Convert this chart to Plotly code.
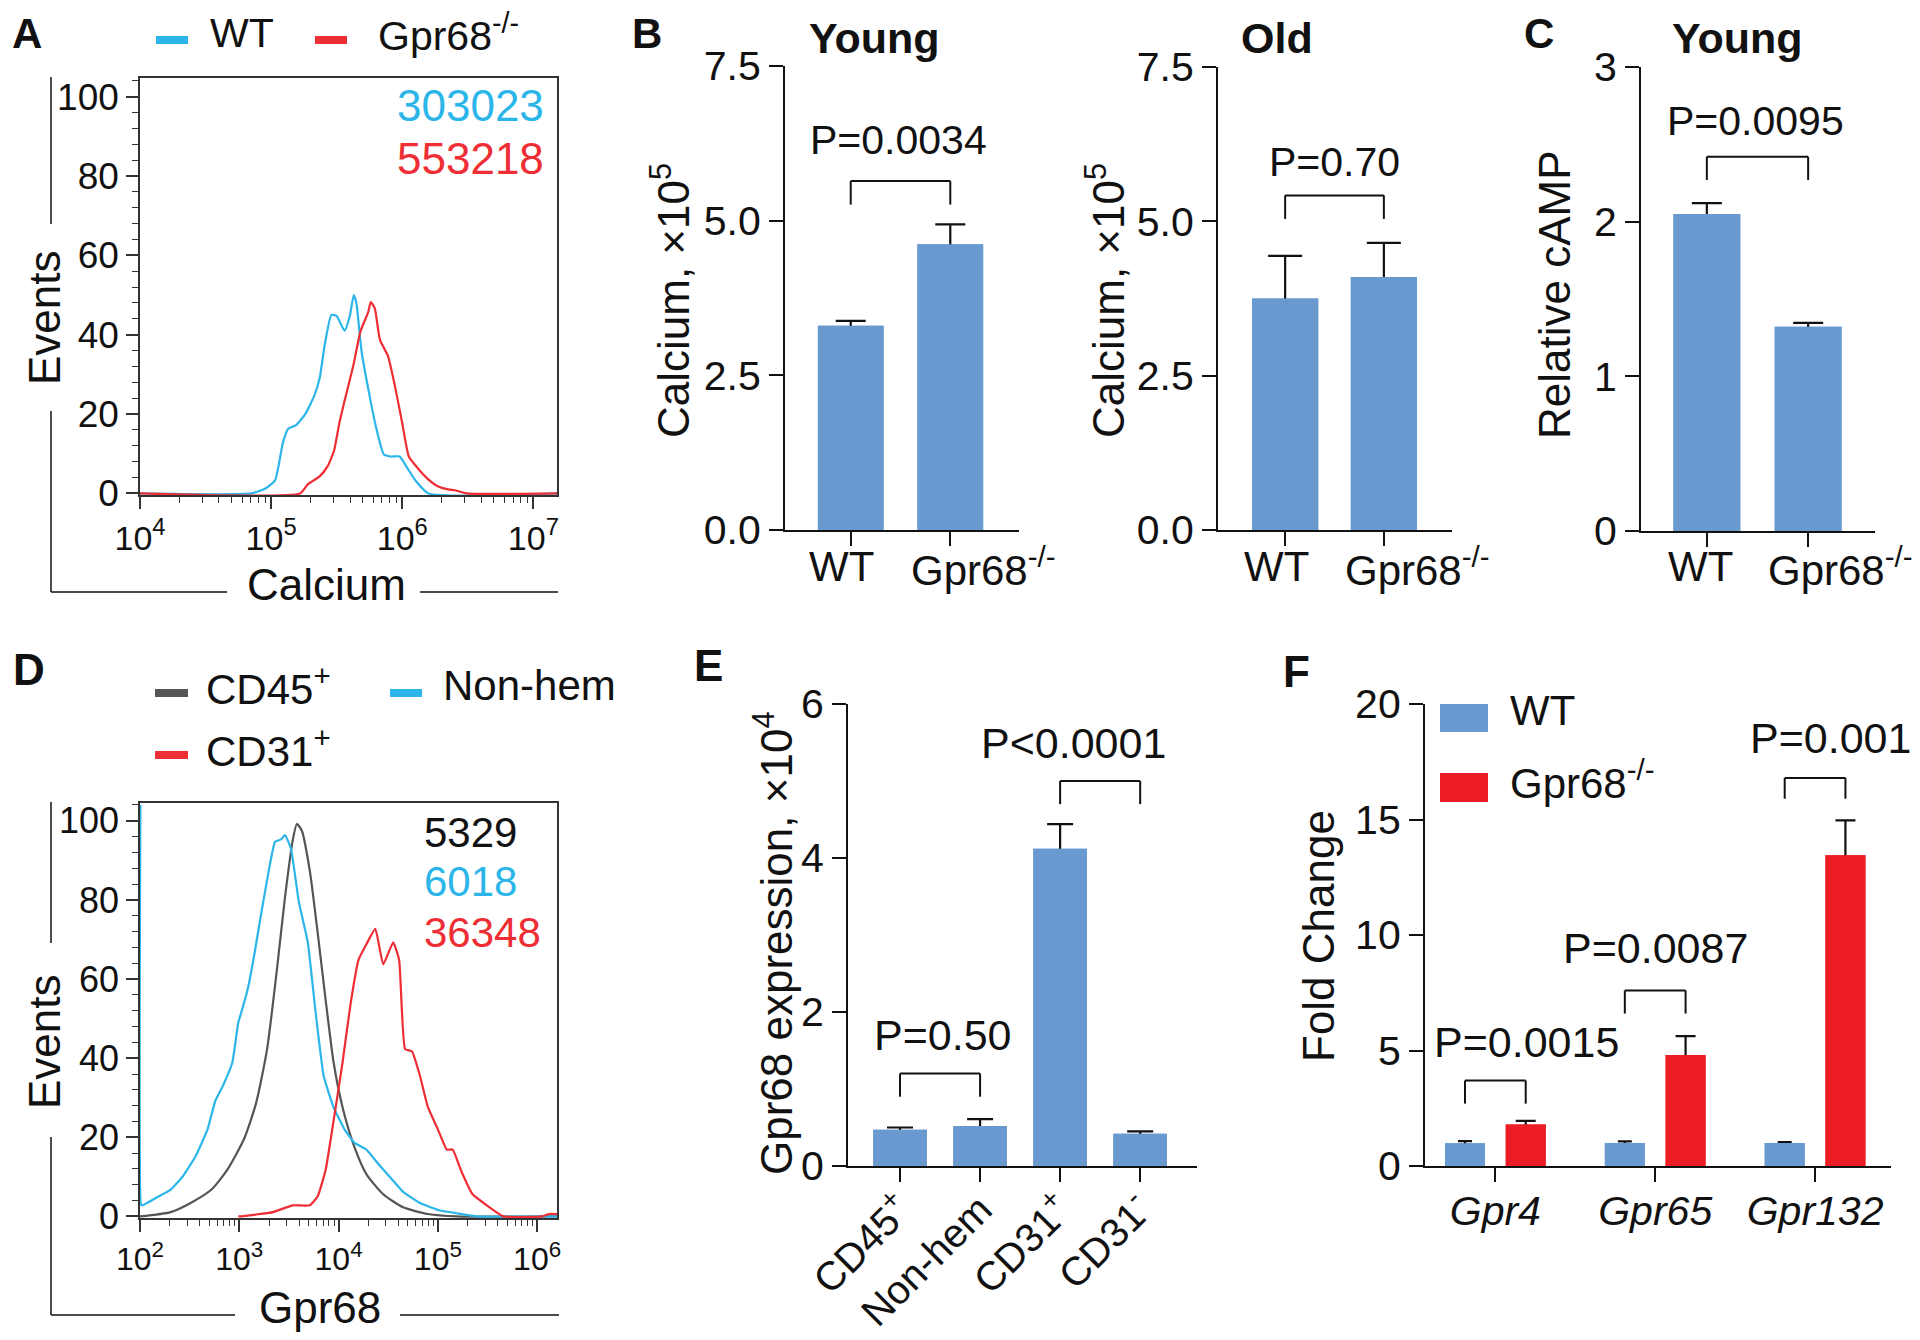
import numpy as np
import plotly.graph_objects as go

# ======================= DATA =======================
# Panel A: calcium flow histograms (x = log10 intensity, y = events % of max)
a_wt_log10 = [4.0, 4.85, 4.96, 5.03, 5.09, 5.13, 5.19, 5.26, 5.33, 5.37, 5.41, 5.46, 5.50,
              5.56, 5.60, 5.63, 5.65, 5.69, 5.75, 5.80, 5.86, 5.91, 5.98, 6.04, 6.10, 6.20, 7.19]
a_wt_events = [0, 0, 1.3, 3.3, 12.8, 16.3, 17.2, 20, 24.7, 29, 37.7, 45, 44.7,
               41, 44.7, 50, 48, 35.7, 24.7, 16.7, 9.8, 9.3, 9.3, 6.3, 3.3, 0, 0]
a_ko_log10 = [4.0, 5.22, 5.28, 5.37, 5.43, 5.48, 5.52, 5.57, 5.63, 5.68, 5.74, 5.76, 5.79,
              5.83, 5.89, 5.94, 6.00, 6.05, 6.12, 6.19, 6.27, 6.35, 6.40, 6.49, 7.19]
a_ko_events = [0, 0, 2.3, 4.3, 6.8, 10.8, 17.7, 24.7, 32.7, 40.7, 45.7, 48.2, 46.7,
               38.7, 34.7, 27.7, 17.7, 9.3, 6.3, 3.8, 1.8, 1.0, 0.8, 0, 0]
a_decades = [4, 5, 6, 7]
a_mfi = ["303023", "553218"]

# Panel B: calcium (x10^5)
genotypes = ["WT", "Gpr68<sup>-/-</sup>"]
young_ca = [3.30, 4.62]
young_ca_sem = [0.08, 0.32]
old_ca = [3.75, 4.10]
old_ca_sem = [0.69, 0.55]
b_ticks = [0, 2.5, 5.0, 7.5]

# Panel C: relative cAMP
camp = [2.05, 1.32]
camp_sem = [0.07, 0.025]
c_ticks = [0, 1, 2, 3]

# Panel D: Gpr68 flow histograms
d_cd45_log10 = [2.0, 2.31, 2.51, 2.72, 2.88, 3.05, 3.17, 3.28, 3.38, 3.46, 3.54, 3.58, 3.63,
                3.71, 3.79, 3.87, 3.95, 4.04, 4.16, 4.28, 4.45, 4.65, 4.90, 5.19, 6.2]
d_cd45_events = [0, 1.1, 3.4, 6.8, 11.8, 19.7, 28.7, 42.3, 62.6, 80.6, 95.3, 99.2, 97.5,
                 87.4, 71.6, 54.7, 38.9, 27.6, 17.5, 10.7, 5.6, 2.3, 0.6, 0, 0]
d_nonhem_log10 = [2.004, 2.008, 2.02, 2.19, 2.31, 2.43, 2.56, 2.68, 2.76, 2.84, 2.93, 2.99, 3.03,
                  3.09, 3.15, 3.21, 3.28, 3.36, 3.42, 3.46, 3.52, 3.60, 3.69, 3.77, 3.85, 3.95,
                  4.06, 4.16, 4.28, 4.41, 4.53, 4.65, 4.82, 5.02, 5.19, 5.40, 6.2]
d_nonhem_events = [104, 3.2, 2.8, 5.1, 6.8, 10.1, 15.2, 22, 29.3, 33.3, 38.9, 49, 52.4,
                   58, 66, 75, 85, 94.7, 95.3, 96.4, 93, 79.5, 69.3, 51.3, 35.5, 27.6,
                   22, 18.6, 16.9, 13, 9.6, 6.2, 3.4, 1.5, 0.8, 0, 0]
d_cd31_log10 = [2.99, 3.01, 3.34, 3.54, 3.71, 3.79, 3.87, 3.95, 4.04, 4.12, 4.20, 4.28, 4.37,
                4.45, 4.55, 4.61, 4.67, 4.74, 4.82, 4.90, 5.00, 5.09, 5.15, 5.23, 5.35, 5.52,
                5.66, 6.05, 6.12, 6.2]
d_cd31_events = [0, 0, 1.1, 2.8, 2.8, 5.1, 11.8, 24.2, 38.9, 53.6, 64.8, 68.8, 72.7,
                 63.7, 69.3, 64.8, 42.3, 41.7, 35.5, 27.6, 22, 16.9, 16.9, 11.8, 5.6, 2.3,
                 0, 0, 0.6, 0.6]
d_decades = [2, 3, 4, 5, 6]
d_mfi = ["5329", "6018", "36348"]

# Panel E: Gpr68 expression (x10^4)
e_groups = ["CD45<sup>+</sup>", "Non-hem", "CD31<sup>+</sup>", "CD31<sup>-</sup>"]
e_expr = [0.47, 0.52, 4.12, 0.42]
e_sem = [0.03, 0.09, 0.32, 0.03]
e_ticks = [0, 2, 4, 6]

# Panel F: fold change
f_genes = ["<i>Gpr4</i>", "<i>Gpr65</i>", "<i>Gpr132</i>"]
f_wt = [0.99, 1.00, 1.00]
f_wt_sem = [0.09, 0.07, 0.03]
f_ko = [1.80, 4.81, 13.45]
f_ko_sem = [0.15, 0.81, 1.51]
f_ticks = [0, 5, 10, 15, 20]

# ======================= STYLE =======================
W, H = 1920, 1340
BASE = "Liberation Sans, Arial, sans-serif"
INK = "#111111"
BAR_BLUE = "#6899CF"
BAR_RED = "#EC1C24"
CYAN = "#2BB5E9"
FRED = "#EE2D34"
GRAY = "#555555"
TICK = 41
TITLE = 44
TEXT_DY = -8   # visual centring correction for horizontal annotations


def X(px):
    return px / W


def Y(py):
    return 1 - py / H


fig = go.Figure()
shapes = []
annotations = []
layout_axes = {}


def axnames(i):
    return ("x" if i == 1 else f"x{i}"), ("y" if i == 1 else f"y{i}")


def set_axes(i, xbox, ybox, xcfg, ycfg):
    xn, yn = axnames(i)
    layout_axes["xaxis" + ("" if i == 1 else str(i))] = dict(
        domain=[X(xbox[0]), X(xbox[1])], anchor=yn, automargin=False, **xcfg)
    layout_axes["yaxis" + ("" if i == 1 else str(i))] = dict(
        domain=[Y(ybox[1]), Y(ybox[0])], anchor=xn, automargin=False, **ycfg)


def ann(text, x, y, size=TITLE, color=INK, xanchor="center", yanchor="middle", angle=0):
    if angle == 0 and yanchor == "middle":
        y = y + TEXT_DY
    annotations.append(dict(text=text, x=X(x), y=Y(y), xref="paper", yref="paper",
                            showarrow=False, xanchor=xanchor, yanchor=yanchor,
                            textangle=angle,
                            font=dict(size=size, color=color, family=BASE)))


def pline(x0, y0, x1, y1, color=INK, width=2):
    shapes.append(dict(type="line", xref="paper", yref="paper", x0=X(x0), y0=Y(y0),
                       x1=X(x1), y1=Y(y1), line=dict(color=color, width=width)))


def bracket(i, xa, xb, ytop, ybot, width=2):
    xn, yn = axnames(i)
    for (x0, y0, x1, y1) in [(xa, ybot, xa, ytop), (xa, ytop, xb, ytop), (xb, ytop, xb, ybot)]:
        shapes.append(dict(type="line", xref=xn, yref=yn, x0=x0, y0=y0, x1=x1, y1=y1,
                           line=dict(color=INK, width=width)))


def add_bars(i, cats, vals, errs, color, width, capw, offset=None):
    xn, yn = axnames(i)
    # bar carrying the upward error bar; its lower half is hidden by an identical cover bar
    fig.add_trace(go.Bar(x=cats, y=vals, width=width, offset=offset,
                         marker=dict(color=color, line=dict(width=0)),
                         error_y=dict(type="data", symmetric=False, array=errs, arrayminus=vals,
                                      color=INK, thickness=2.2, width=capw),
                         xaxis=xn, yaxis=yn, hoverinfo="skip"))
    fig.add_trace(go.Bar(x=cats, y=vals, width=width, offset=offset,
                         marker=dict(color=color, line=dict(width=0)),
                         xaxis=xn, yaxis=yn, hoverinfo="skip"))


def flow_axes(i, xbox, ybox, decades, xrange, yrange, xfont, yfont):
    minor_vals = [m * 10 ** d for d in range(decades[0] - 1, decades[-1] + 1) for m in range(2, 10)]
    xcfg = dict(type="log", range=xrange, showline=True, mirror=True, linecolor="#333", linewidth=1.5,
                ticks="outside", ticklen=12, tickwidth=1.5, tickcolor="#333",
                tickmode="array", tickvals=[10 ** d for d in decades],
                ticktext=[f"10<sup>{d}</sup>" for d in decades],
                minor=dict(tickmode="array", tickvals=minor_vals, ticks="outside", ticklen=6,
                           tickwidth=1.2, tickcolor="#333", showgrid=False),
                showgrid=False, zeroline=False, tickfont=xfont, fixedrange=True)
    ycfg = dict(range=yrange, showline=True, mirror=True, linecolor="#333", linewidth=1.5,
                ticks="outside", ticklen=12, tickwidth=1.5, tickcolor="#333",
                tickmode="array", tickvals=[0, 20, 40, 60, 80, 100],
                minor=dict(dtick=4, tick0=0, ticks="outside", ticklen=6, tickwidth=1.2,
                           tickcolor="#333", showgrid=False),
                showgrid=False, zeroline=False, tickfont=yfont, fixedrange=True)
    set_axes(i, xbox, ybox, xcfg, ycfg)


def bar_axes(i, xbox, ybox, xrange, yrange, yticks, yfmt, tickangle=0,
             show_xlabels=True, xstandoff=0, xfont_size=TICK):
    tf = dict(size=TICK, color=INK, family=BASE)
    xcfg = dict(type="category", range=xrange, showline=True, linecolor=INK, linewidth=2.2,
                ticks="outside", ticklen=14, tickwidth=2.2, tickcolor=INK, showgrid=False,
                zeroline=False, tickfont=dict(size=xfont_size, color=INK, family=BASE),
                tickangle=tickangle, fixedrange=True,
                showticklabels=show_xlabels, ticklabelstandoff=xstandoff)
    ycfg = dict(range=yrange, showline=True, linecolor=INK, linewidth=2.2, ticks="outside",
                ticklen=14, tickwidth=2.2, tickcolor=INK, tickmode="array", tickvals=yticks,
                tickformat=yfmt, showgrid=False, zeroline=False, tickfont=tf, fixedrange=True)
    set_axes(i, xbox, ybox, xcfg, ycfg)


# ======================= PANEL A =======================
fig.add_trace(go.Scatter(x=np.power(10.0, a_wt_log10), y=a_wt_events, mode="lines",
                         line=dict(color=CYAN, width=2.2, shape="spline", smoothing=0.5),
                         xaxis="x", yaxis="y", hoverinfo="skip"))
fig.add_trace(go.Scatter(x=np.power(10.0, a_ko_log10), y=a_ko_events, mode="lines",
                         line=dict(color=FRED, width=2.2, shape="spline", smoothing=0.5),
                         xaxis="x", yaxis="y", hoverinfo="skip"))
flow_axes(1, (132, 549), (70, 487), a_decades, [4, 7.18], [-0.4, 104.7],
          dict(size=34, color=INK, family=BASE), dict(size=37, color=INK, family=BASE))
ann("<b>A</b>", 19, 0, size=42, yanchor="top")
pline(148, 32, 180, 32, CYAN, 8)
ann("WT", 200, 33, size=41, xanchor="left")
pline(307, 32, 339, 32, FRED, 8)
ann("Gpr68<sup>-/-</sup>", 368, 33, size=41, xanchor="left")
ann(a_mfi[0], 387, 105, color=CYAN, xanchor="left")
ann(a_mfi[1], 387, 158, color=FRED, xanchor="left")
ann("Events", 36, 310, angle=-90)
ann("Calcium", 318, 584)
pline(43, 69, 43, 216, INK, 1.5)
pline(43, 403, 43, 584, INK, 1.5)
pline(43, 584, 219, 584, INK, 1.5)
pline(412, 584, 550, 584, INK, 1.5)

# ======================= PANEL B (Young) =======================
add_bars(2, genotypes, young_ca, young_ca_sem, BAR_BLUE, 0.66, 15)
bar_axes(2, (777, 1011), (58, 522), [-0.66, 1.69], [0, 7.5], b_ticks, ".1f", show_xlabels=False)
bracket(2, 0, 1, 5.64, 5.26)
ann("P=0.0034", 890, 140, size=41)
ann("<b>B</b>", 639, 0, size=42, yanchor="top")
ann("<b>Young</b>", 866, 38, size=43)
ann("Calcium, ×10<sup>5</sup>", 662, 293, angle=-90)
ann(genotypes[0], 833, 567, size=42)
ann(genotypes[1], 901, 567, size=42, xanchor="left")

# ======================= PANEL B (Old) =======================
add_bars(3, genotypes, old_ca, old_ca_sem, BAR_BLUE, 0.67, 17)
bar_axes(3, (1210, 1444), (59, 522), [-0.68, 1.69], [0, 7.5], b_ticks, ".1f", show_xlabels=False)
bracket(3, 0, 1, 5.42, 5.04)
ann("P=0.70", 1326, 162, size=41)
ann("<b>Old</b>", 1269, 38, size=43)
ann("Calcium, ×10<sup>5</sup>", 1097, 293, angle=-90)
ann(genotypes[0], 1268, 567, size=42)
ann(genotypes[1], 1335, 567, size=42, xanchor="left")

# ======================= PANEL C =======================
add_bars(4, genotypes, camp, camp_sem, BAR_BLUE, 0.66, 15)
bar_axes(4, (1633, 1867), (59, 523), [-0.65, 1.66], [0, 3], c_ticks, "d", show_xlabels=False)
bracket(4, 0, 1, 2.42, 2.27)
ann("P=0.0095", 1747, 121, size=41)
ann("<b>C</b>", 1531, 0, size=42, yanchor="top")
ann("<b>Young</b>", 1729, 38, size=43)
ann("Relative cAMP", 1547, 287, angle=-90)
ann(genotypes[0], 1692, 567, size=42)
ann(genotypes[1], 1758, 567, size=42, xanchor="left")

# ======================= PANEL D =======================
fig.add_trace(go.Scatter(x=np.power(10.0, d_cd45_log10), y=d_cd45_events, mode="lines",
                         line=dict(color=GRAY, width=2.2, shape="spline", smoothing=0.6),
                         xaxis="x5", yaxis="y5", hoverinfo="skip"))
fig.add_trace(go.Scatter(x=np.power(10.0, d_nonhem_log10), y=d_nonhem_events, mode="lines",
                         line=dict(color=CYAN, width=2.2, shape="spline", smoothing=0.4),
                         xaxis="x5", yaxis="y5", hoverinfo="skip"))
fig.add_trace(go.Scatter(x=np.power(10.0, d_cd31_log10), y=d_cd31_events, mode="lines",
                         line=dict(color=FRED, width=2.2, shape="spline", smoothing=0.4),
                         xaxis="x5", yaxis="y5", hoverinfo="skip"))
flow_axes(5, (132, 549), (795, 1210), d_decades, [2, 6.2], [-0.4, 104.5],
          dict(size=32, color=INK, family=BASE), dict(size=36, color=INK, family=BASE))
ann("<b>D</b>", 21, 670)
pline(147, 685, 180, 685, GRAY, 8)
ann("CD45<sup>+</sup>", 196, 686, size=42, xanchor="left")
pline(382, 685, 414, 685, CYAN, 8)
ann("Non-hem", 433, 686, size=42, xanchor="left")
pline(147, 747, 180, 747, FRED, 8)
ann("CD31<sup>+</sup>", 196, 748, size=42, xanchor="left")
ann(d_mfi[0], 414, 832, size=42, color=INK, xanchor="left")
ann(d_mfi[1], 414, 881, size=42, color=CYAN, xanchor="left")
ann(d_mfi[2], 414, 932, size=42, color=FRED, xanchor="left")
ann("Events", 36, 1034, angle=-90)
ann("Gpr68", 312, 1307)
pline(43, 794, 43, 935, INK, 1.5)
pline(43, 1129, 43, 1307, INK, 1.5)
pline(43, 1307, 227, 1307, INK, 1.5)
pline(392, 1307, 551, 1307, INK, 1.5)

# ======================= PANEL E =======================
add_bars(6, e_groups, e_expr, e_sem, BAR_BLUE, 0.67, 13)
bar_axes(6, (840, 1189), (696, 1158), [-0.65, 3.71], [0, 6], e_ticks, "d", tickangle=-45,
         xstandoff=-12, xfont_size=40)
bracket(6, 0, 1, 1.2, 0.9)
bracket(6, 2, 3, 5.0, 4.7)
ann("P=0.50", 934, 1035, size=43)
ann("P<0.0001", 1065, 743, size=43)
ann("<b>E</b>", 700, 665)
ann("Gpr68 expression, ×10<sup>4</sup>", 765, 935, angle=-90)

# ======================= PANEL F =======================
add_bars(7, f_genes, f_wt, f_wt_sem, BAR_BLUE, 0.25, 7, offset=-0.315)
add_bars(7, f_genes, f_ko, f_ko_sem, BAR_RED, 0.25, 10, offset=0.065)
bar_axes(7, (1417, 1883), (696, 1158), [-0.44, 2.475], [0, 20], f_ticks, "d", xstandoff=-6)
f_brackets = [(3.7, 2.7), (7.6, 6.6), (16.8, 15.9)]
for gi, (top, bot) in enumerate(f_brackets):
    bracket(7, gi - 0.19, gi + 0.19, top, bot)
ann("P=0.0015", 1518, 1042, size=43)
ann("P=0.0087", 1647, 948, size=43)
ann("P=0.001", 1822, 738, size=43)
ann("<b>F</b>", 1288, 671)
ann("Fold Change", 1310, 928, angle=-90)
shapes.append(dict(type="rect", xref="paper", yref="paper", x0=X(1432), x1=X(1480),
                   y0=Y(724), y1=Y(696), fillcolor=BAR_BLUE, line=dict(width=0)))
shapes.append(dict(type="rect", xref="paper", yref="paper", x0=X(1432), x1=X(1480),
                   y0=Y(794), y1=Y(765), fillcolor=BAR_RED, line=dict(width=0)))
ann("WT", 1500, 711, size=42, xanchor="left")
ann("Gpr68<sup>-/-</sup>", 1500, 780, size=42, xanchor="left")

fig.update_layout(
    template="none",
    width=W, height=H, margin=dict(l=0, r=0, t=0, b=0, pad=0),
    paper_bgcolor="white", plot_bgcolor="white", showlegend=False,
    barmode="overlay", font=dict(family=BASE, color=INK),
    shapes=shapes, annotations=annotations, **layout_axes)

fig.write_html("out.html")
